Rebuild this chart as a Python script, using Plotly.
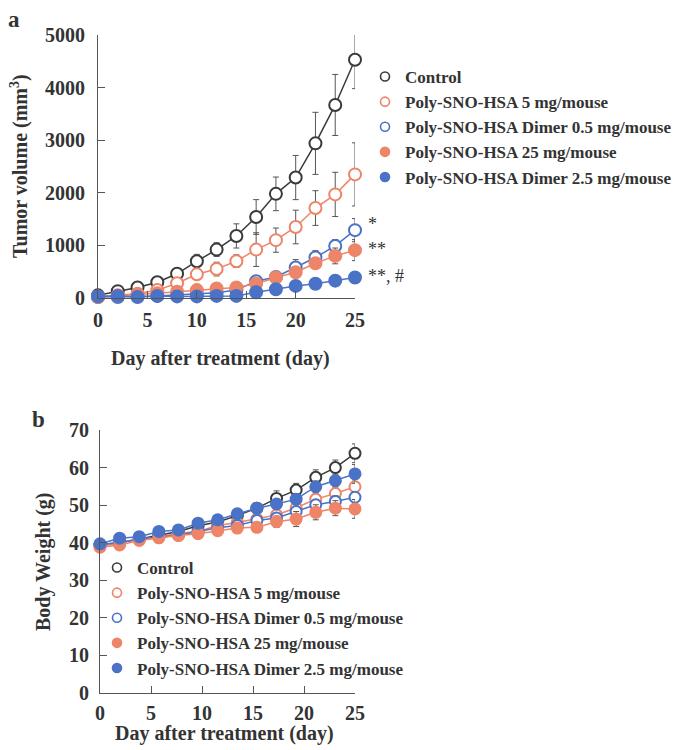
import plotly.graph_objects as go

# ---------------- data ----------------
days = [0, 2, 4, 6, 8, 10, 12, 14, 16, 18, 20, 22, 24, 26]
series_names = [
    "Control",
    "Poly-SNO-HSA 5 mg/mouse",
    "Poly-SNO-HSA Dimer 0.5 mg/mouse",
    "Poly-SNO-HSA 25 mg/mouse",
    "Poly-SNO-HSA Dimer 2.5 mg/mouse",
]

# Panel a: tumor volume (mm^3)
tv_control = [50, 130, 200, 300, 460, 700, 920, 1180, 1540, 1980, 2290, 2940, 3670, 4530]
tv_control_err = [15, 30, 40, 50, 70, 130, 130, 230, 330, 320, 420, 590, 580, 550]
tv_p5 = [30, 50, 80, 150, 280, 450, 550, 700, 920, 1100, 1350, 1710, 1970, 2350]
tv_p5_err = [10, 20, 30, 40, 80, 100, 130, 120, 320, 230, 320, 330, 420, 600]
tv_d05 = [20, 20, 30, 40, 60, 80, 100, 150, 320, 400, 580, 770, 990, 1290]
tv_d05_err = [10, 10, 10, 20, 20, 30, 40, 50, 60, 80, 150, 130, 120, 220]
tv_p25 = [20, 40, 60, 90, 120, 150, 180, 200, 270, 390, 490, 660, 800, 910]
tv_p25_err = [10, 10, 15, 20, 30, 30, 40, 40, 60, 100, 100, 100, 150, 200]
tv_d25 = [30, 40, 20, 40, 30, 30, 40, 40, 110, 165, 230, 270, 330, 390]
tv_d25_err = [10, 10, 10, 10, 10, 10, 10, 20, 40, 60, 100, 100, 100, 100]

# Panel b: body weight (g)
bw_control = [39.5, 40.0, 41.0, 42.0, 43.0, 44.5, 45.5, 47.2, 49.2, 51.8, 54.0, 57.4, 60.0, 63.8]
bw_control_err = [0.5, 0.5, 0.5, 0.5, 0.6, 0.7, 0.7, 0.8, 1.0, 2.0, 1.8, 2.0, 2.0, 2.5]
bw_p5 = [39.0, 40.0, 41.0, 41.5, 42.5, 43.0, 44.6, 45.4, 46.3, 47.4, 49.3, 51.6, 53.1, 54.9]
bw_p5_err = [0.5, 0.5, 0.5, 0.5, 0.6, 0.7, 0.8, 0.8, 1.0, 1.2, 1.3, 1.4, 1.5, 1.5]
bw_d05 = [39.5, 40.0, 41.0, 41.5, 42.0, 43.0, 44.0, 44.6, 45.9, 46.6, 48.3, 50.1, 51.0, 52.1]
bw_d05_err = [0.5, 0.5, 0.5, 0.5, 0.6, 0.7, 0.8, 0.8, 1.0, 1.2, 1.3, 1.4, 1.5, 1.5]
bw_p25 = [38.8, 39.4, 40.6, 41.3, 41.9, 42.4, 43.2, 43.9, 44.1, 45.6, 46.3, 48.1, 49.2, 49.0]
bw_p25_err = [0.5, 0.5, 0.5, 0.5, 0.6, 0.7, 0.8, 0.8, 1.0, 1.5, 2.0, 2.0, 2.0, 2.5]
bw_d25 = [39.7, 41.2, 41.6, 43.0, 43.4, 45.2, 46.1, 47.7, 49.2, 50.3, 51.6, 54.9, 56.5, 58.3]
bw_d25_err = [0.5, 0.5, 0.5, 0.5, 0.6, 0.7, 0.8, 0.8, 1.0, 1.2, 1.5, 1.5, 1.5, 2.5]

# tick labels
a_xtickvals = [0, 5, 10, 15, 20, 26]
b_xtickvals = [0, 5.2, 10.4, 15.6, 20.8, 26]
xticktext = ["0", "5", "10", "15", "20", "25"]
a_ytickvals = [0, 1000, 2000, 3000, 4000, 5000]
b_ytickvals = [0, 10, 20, 30, 40, 50, 60, 70]
significance = ["*", "**", "**, #"]

# ---------------- styles ----------------
BLACK = "#3a3a3a"
CORAL = "#EE8468"
BLUE = "#4A72C6"
ERR = "#555555"
FONT = "Liberation Serif"
TXT = "#333333"

styles = [
    dict(line=BLACK, fill="white"),
    dict(line=CORAL, fill="white"),
    dict(line=BLUE, fill="white"),
    dict(line=CORAL, fill=CORAL),
    dict(line=BLUE, fill=BLUE),
]

tv = [(tv_control, tv_control_err), (tv_p5, tv_p5_err), (tv_d05, tv_d05_err),
      (tv_p25, tv_p25_err), (tv_d25, tv_d25_err)]
bw = [(bw_control, bw_control_err), (bw_p5, bw_p5_err), (bw_d05, bw_d05_err),
      (bw_p25, bw_p25_err), (bw_d25, bw_d25_err)]

fig = go.Figure()

def add_panel(data, xa, ya, msize, legend):
    for (vals, errs), st, name in zip(data, styles, series_names):
        fig.add_trace(go.Scatter(
            x=days, y=vals, xaxis=xa, yaxis=ya, mode="lines+markers",
            name=name, showlegend=False, cliponaxis=False,
            line=dict(color=st["line"], width=1.5),
            marker=dict(symbol="circle", size=msize, color=st["fill"],
                        line=dict(color=st["line"], width=2)),
            error_y=dict(type="data", array=errs, visible=True,
                         color=ERR, thickness=1, width=3),
        ))
    for st, name in zip(styles, series_names):
        fig.add_trace(go.Scatter(
            x=[None], y=[None], xaxis=xa, yaxis=ya, mode="markers",
            name=name, legend=legend,
            marker=dict(symbol="circle", size=9, color=st["fill"],
                        line=dict(color=st["line"], width=1.6)),
        ))

add_panel(tv, "x", "y", 12, "legend")
add_panel(bw, "x2", "y2", 11, "legend2")

W, H = 679, 750
def px(x):
    return x / W
def py(y):
    return 1 - y / H

axis_common = dict(
    showline=True, linecolor="#555", linewidth=1, ticks="inside", ticklen=7,
    tickcolor="#555", showgrid=False, zeroline=False, automargin=False,
    tickfont=dict(family=FONT, size=20, color=TXT, weight="bold"),
)

fig.update_layout(
    width=W, height=H,
    margin=dict(l=0, r=0, t=0, b=0, autoexpand=False),
    paper_bgcolor="white", plot_bgcolor="white",
    font=dict(family=FONT, color=TXT),
    xaxis=dict(axis_common, domain=[px(98), px(355)], range=[0, 26],
               tickvals=a_xtickvals, ticktext=xticktext, anchor="y",
               ticklabelstandoff=4),
    yaxis=dict(axis_common, domain=[py(298), py(35)], range=[0, 5000],
               tickvals=a_ytickvals, anchor="x", ticklabelstandoff=8),
    xaxis2=dict(axis_common, domain=[px(100), px(355)], range=[0, 26],
                tickvals=b_xtickvals, ticktext=xticktext, anchor="y2",
                ticklabelstandoff=2),
    yaxis2=dict(axis_common, domain=[py(693), py(430)], range=[0, 70],
                tickvals=b_ytickvals, anchor="x2", ticklabelstandoff=6),
    legend=dict(x=px(365), y=py(59), xanchor="left", yanchor="top",
                bgcolor="rgba(0,0,0,0)",
                font=dict(family=FONT, size=17, color=TXT, weight="bold")),
    legend2=dict(x=px(97), y=py(550), xanchor="left", yanchor="top",
                 bgcolor="rgba(0,0,0,0)",
                 font=dict(family=FONT, size=17, color=TXT, weight="bold")),
)

bold = dict(family=FONT, size=20, color=TXT, weight="bold")
ann = [
    dict(text="a", x=px(14), y=py(20), font=dict(bold, size=23)),
    dict(text="b", x=px(38), y=py(419), font=dict(bold, size=23)),
    dict(text="Day after treatment (day)", x=px(220), y=py(358), font=bold),
    dict(text="Day after treatment (day)", x=px(224), y=py(733), font=bold),
    dict(text="Tumor volume (mm<sup>3</sup>)", x=px(19), y=py(166),
         textangle=-90, font=bold),
    dict(text="Body Weight (g)", x=px(43), y=py(562), textangle=-90, font=bold),
]
sig_y = [224, 249, 276]
for t, yy in zip(significance, sig_y):
    ann.append(dict(text=t, x=px(366), y=py(yy), xanchor="left",
                    font=dict(family=FONT, size=18, color=TXT)))
for a in ann:
    a.setdefault("xanchor", "center")
    a.update(xref="paper", yref="paper", yanchor="middle", showarrow=False)
fig.update_layout(annotations=ann)

fig.write_html("out.html", config={"displayModeBar": False},
               post_script="document.body.style.margin='0';")
